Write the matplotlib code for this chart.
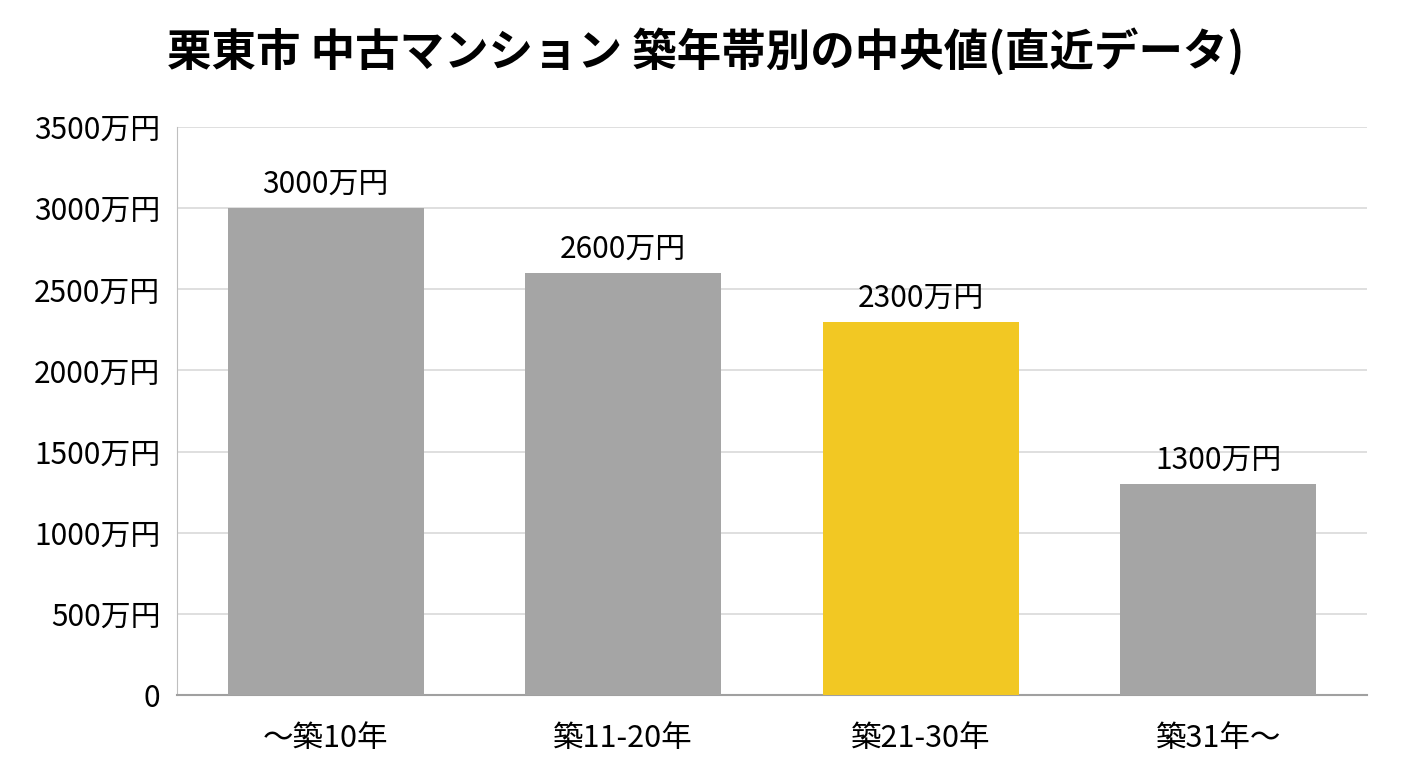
import matplotlib
matplotlib.use("Agg")
import matplotlib.pyplot as plt

plt.rcParams['font.family'] = ['Noto Sans CJK JP', 'DejaVu Sans']

categories = ['～築10年', '築11-20年', '築21-30年', '築31年～']
values = [3000, 2600, 2300, 1300]
bar_colors = ['#a5a5a5', '#a5a5a5', '#f2c823', '#a5a5a5']
yticks = [0, 500, 1000, 1500, 2000, 2500, 3000, 3500]

fig = plt.figure(figsize=(14.08, 7.68), dpi=100)
ax = fig.add_axes([0.1257, 0.0951, 0.8452, 0.7395])

x = range(len(categories))
ax.bar(x, values, width=0.66, color=bar_colors, zorder=3)

for i, v in zip(x, values):
    ax.text(i, v + 50, f'{v}万円', ha='center', va='bottom', fontsize=21.5)

ax.set_xlim(-0.5, len(categories) - 0.5)
ax.set_ylim(0, 3500)
ax.set_yticks(yticks)
ax.set_yticklabels(['0' if t == 0 else f'{t}万円' for t in yticks], fontsize=21.5)
ax.set_xticks(list(x))
ax.set_xticklabels(categories, fontsize=22)
ax.tick_params(axis='both', length=0, pad=12)
ax.tick_params(axis='x', pad=20)

ax.grid(axis='y', color='#d9d9d9', linewidth=1.2, zorder=0)
for s in ['top', 'right']:
    ax.spines[s].set_visible(False)
ax.spines['left'].set_color('#bfbfbf')
ax.spines['bottom'].set_color('#a0a0a0')
ax.spines['bottom'].set_linewidth(1.5)

fig.text(0.5015, 0.932, '栗東市 中古マンション 築年帯別の中央値(直近データ)',
         ha='center', va='center', fontsize=32, fontweight='bold')

fig.savefig('out.png', dpi=100)
